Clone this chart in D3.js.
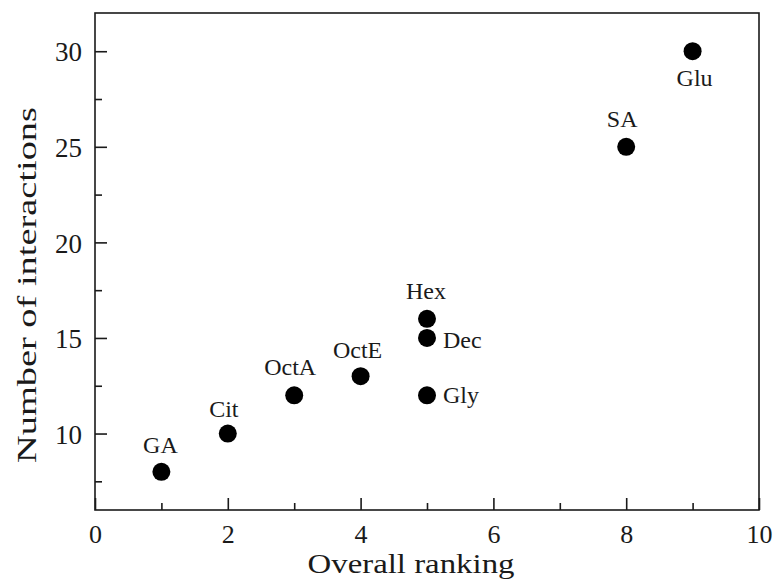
<!DOCTYPE html>
<html>
<head>
<meta charset="utf-8">
<script src="https://cdn.jsdelivr.net/npm/d3@7"></script>
</head>
<body style="margin:0; background:#fff">
<svg id="chart" width="776" height="584"></svg>
<script>
// Compounds: overall ranking vs. number of interactions
const compounds = ["GA", "Cit", "OctA", "OctE", "Hex", "Dec", "Gly", "SA", "Glu"];
const ranking = [1, 2, 3, 4, 5, 5, 5, 8, 9];
const interactions = [8, 10, 12, 13, 16, 15, 12, 25, 30];
const xTicks = [0, 2, 4, 6, 8, 10];
const yTicks = [10, 15, 20, 25, 30];

const FONT = "Liberation Serif";
const ink = "#1a1a1a";

const svg = d3.select("#chart");
const margin = { left: 95, right: 17, top: 13, bottom: 74 };
const W = 776, H = 584;

const x = d3.scaleLinear().domain([0, 10]).range([margin.left, W - margin.right]);
const y = d3.scaleLinear().domain([6, 32]).range([H - margin.bottom, margin.top]);

// frame
svg.append("rect")
  .attr("x", x(0)).attr("y", y(32))
  .attr("width", x(10) - x(0)).attr("height", y(6) - y(32))
  .attr("fill", "none").attr("stroke", ink).attr("stroke-width", 1.6);

function styleAxis(g, size) {
  g.select(".domain").remove();
  g.selectAll(".tick line").attr("stroke", ink).attr("stroke-width", 1.6);
  g.selectAll(".tick text")
    .style("font-family", FONT).style("font-size", size + "px").attr("fill", ink);
}

// bottom axis: labelled major ticks plus unlabelled minor ticks, all pointing inward
const gx = svg.append("g").attr("transform", `translate(0,${y(6)})`)
  .call(d3.axisBottom(x).tickValues(xTicks).tickSizeInner(-12).tickSizeOuter(0).tickPadding(15));
styleAxis(gx, 26);
gx.selectAll(".tick text").attr("dy", "0.71em");
const gxMinor = svg.append("g").attr("transform", `translate(0,${y(6)})`)
  .call(d3.axisBottom(x).tickValues([1, 3, 5, 7, 9]).tickSizeInner(-7).tickSizeOuter(0).tickFormat(""));
styleAxis(gxMinor, 26);

// left axis
const gy = svg.append("g").attr("transform", `translate(${x(0)},0)`)
  .call(d3.axisLeft(y).tickValues(yTicks).tickSizeInner(-12).tickSizeOuter(0).tickPadding(13));
styleAxis(gy, 27);
gy.selectAll(".tick text").attr("dy", "0.36em");
const gyMinor = svg.append("g").attr("transform", `translate(${x(0)},0)`)
  .call(d3.axisLeft(y).tickValues([7.5, 12.5, 17.5, 22.5, 27.5]).tickSizeInner(-7).tickSizeOuter(0).tickFormat(""));
styleAxis(gyMinor, 27);

// axis titles
svg.append("text")
  .attr("x", 411).attr("y", 573)
  .attr("text-anchor", "middle")
  .style("font-family", FONT).style("font-size", "27px").attr("fill", ink)
  .attr("textLength", 207).attr("lengthAdjust", "spacingAndGlyphs")
  .text("Overall ranking");

svg.append("text")
  .attr("transform", "translate(36,285) rotate(-90)")
  .attr("text-anchor", "middle")
  .style("font-family", FONT).style("font-size", "28px").attr("fill", ink)
  .attr("textLength", 356).attr("lengthAdjust", "spacingAndGlyphs")
  .text("Number of interactions");

// points
const data = compounds.map((name, i) => ({ name, rank: ranking[i], n: interactions[i] }));

svg.append("g").selectAll("circle")
  .data(data).join("circle")
  .attr("cx", d => x(d.rank)).attr("cy", d => y(d.n))
  .attr("r", 9).attr("fill", "#000");

// label placement around each marker
const placement = {
  GA:   { dx: -1, dy: -19, anchor: "middle" },
  Cit:  { dx: -4, dy: -17, anchor: "middle" },
  OctA: { dx: -4, dy: -20, anchor: "middle" },
  OctE: { dx: -3, dy: -18, anchor: "middle" },
  Hex:  { dx: -1, dy: -20, anchor: "middle" },
  Dec:  { dx: 16, dy: 10, anchor: "start" },
  Gly:  { dx: 16, dy: 8, anchor: "start" },
  SA:   { dx: -4, dy: -20, anchor: "middle" },
  Glu:  { dx: 2, dy: 35, anchor: "middle" }
};

svg.append("g").selectAll("text")
  .data(data).join("text")
  .attr("x", d => x(d.rank) + placement[d.name].dx)
  .attr("y", d => y(d.n) + placement[d.name].dy)
  .attr("text-anchor", d => placement[d.name].anchor)
  .style("font-family", FONT).style("font-size", "24px").attr("fill", ink)
  .text(d => d.name);
</script>
</body>
</html>
